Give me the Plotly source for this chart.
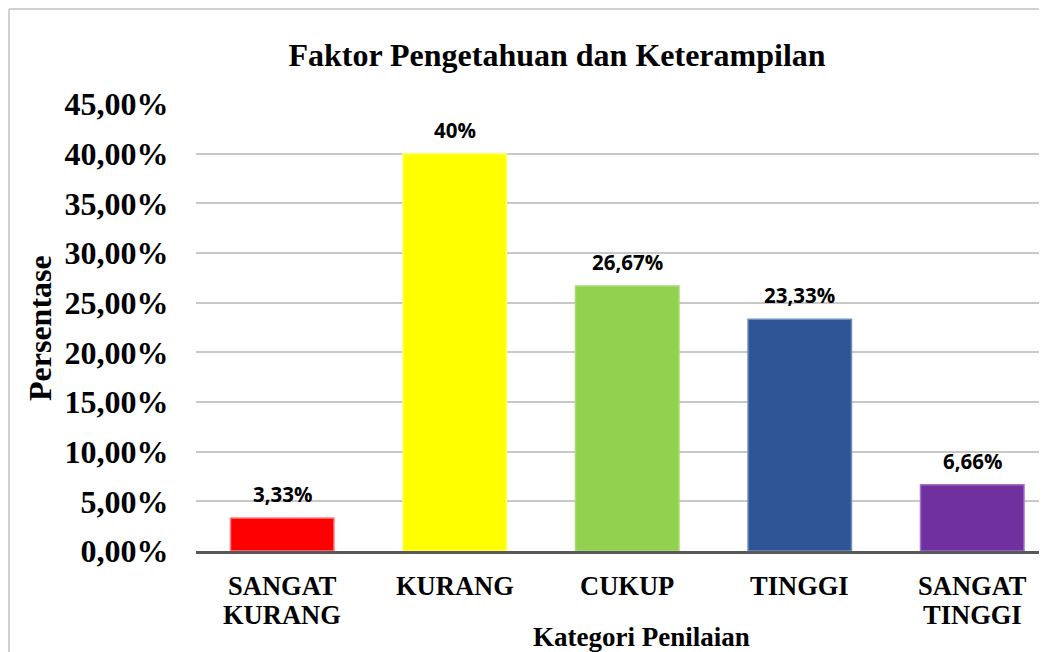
import plotly.graph_objects as go

categories = [["SANGAT", "KURANG"], ["KURANG"], ["CUKUP"], ["TINGGI"], ["SANGAT", "TINGGI"]]
values = [3.33, 40.0, 26.67, 23.33, 6.66]
value_labels = ["3,33%", "40%", "26,67%", "23,33%", "6,66%"]
bar_colors = ["#FF0000", "#FFFF00", "#92D050", "#2F5597", "#7030A0"]
bar_edges = ["#FF7C80", "#FFFF66", "#A9DA74", "#6F8DC2", "#9E72C4"]
y_ticks = [0, 5, 10, 15, 20, 25, 30, 35, 40, 45]

# page body has an 8px margin; figure sized so it ends at the window edge
OFF = 8
W, H = 1047 - OFF, 652 - OFF
# plot area in screen pixels
SL, SR, ST, SB = 196, 1047, 104, 551
ML, MR, MT, MB = SL - OFF, W - (SR - OFF), ST - OFF, H - (SB - OFF)
pw, ph = SR - SL, SB - ST

def px_x(p):
    return (p - SL) / pw

def px_y(p):
    return (SB - p) / ph

serif = "Liberation Serif, Times New Roman, serif"

fig = go.Figure()
fig.add_trace(go.Bar(
    x=list(range(len(categories))), y=values,
    marker=dict(color=bar_colors, line=dict(color=bar_edges, width=1.5)),
    width=0.6, hoverinfo="skip",
))

for i, (v, t) in enumerate(zip(values, value_labels)):
    fig.add_annotation(x=i, y=v, text="<b>%s</b>" % t, showarrow=False,
                       yanchor="middle", yshift=24,
                       font=dict(family="Open Sans, sans-serif", size=20.5, color="#000000"))

# category labels (two-line labels with tight spacing)
line_y = [586, 615]
for i, lines in enumerate(categories):
    for j, ln in enumerate(lines):
        fig.add_annotation(x=i, xref="x", yref="paper", y=px_y(line_y[j]),
                           text="<b>%s</b>" % ln, showarrow=False,
                           xanchor="center", yanchor="middle",
                           font=dict(family=serif, size=26.5, color="#000000"))

# outer frame (left and top edges visible)
fig.add_shape(type="line", xref="paper", yref="paper",
              x0=px_x(9), x1=px_x(9), y0=px_y(670), y1=px_y(9),
              line=dict(color="#D0D0D0", width=2))
fig.add_shape(type="line", xref="paper", yref="paper",
              x0=px_x(9), x1=px_x(1070), y0=px_y(9), y1=px_y(9),
              line=dict(color="#D0D0D0", width=2))

fig.add_annotation(xref="paper", yref="paper", x=px_x(40), y=px_y(328),
                   text="<b>Persentase</b>", textangle=-90, showarrow=False,
                   xanchor="center", yanchor="middle",
                   font=dict(family=serif, size=32, color="#000000"))
fig.add_annotation(xref="paper", yref="paper", x=px_x(641), y=px_y(637),
                   text="<b>Kategori Penilaian</b>", showarrow=False,
                   xanchor="center", yanchor="middle",
                   font=dict(family=serif, size=27, color="#000000"))

fig.update_layout(
    width=W, height=H,
    margin=dict(l=ML, r=MR, t=MT, b=MB, pad=0),
    paper_bgcolor="white", plot_bgcolor="white",
    showlegend=False,
    title=dict(text="<b>Faktor Pengetahuan dan Keterampilan</b>",
               x=(557 - OFF) / W, xanchor="center", xref="container",
               y=1 - (55 - OFF) / H, yanchor="middle", yref="container",
               font=dict(family=serif, size=32, color="#000000")),
)
fig.update_xaxes(
    range=[-0.5, -0.5 + pw / 172.5],
    tickmode="array", tickvals=list(range(len(categories))),
    showticklabels=False, ticks="",
    showline=True, linecolor="#595959", linewidth=3,
    showgrid=False, zeroline=False, fixedrange=True,
)
fig.update_yaxes(
    range=[0, 45], tickmode="array", tickvals=y_ticks,
    ticktext=["<b>%s</b>" % (("%.2f" % t).replace(".", ",") + "%") for t in y_ticks],
    tickfont=dict(family=serif, size=32, color="#000000"),
    ticks="outside", ticklen=20, tickcolor="rgba(0,0,0,0)",
    showgrid=True, gridcolor="#C8C8C8", gridwidth=1.5,
    zeroline=False, showline=False, fixedrange=True,
)

fig.write_html("out.html", config={"displayModeBar": False})
